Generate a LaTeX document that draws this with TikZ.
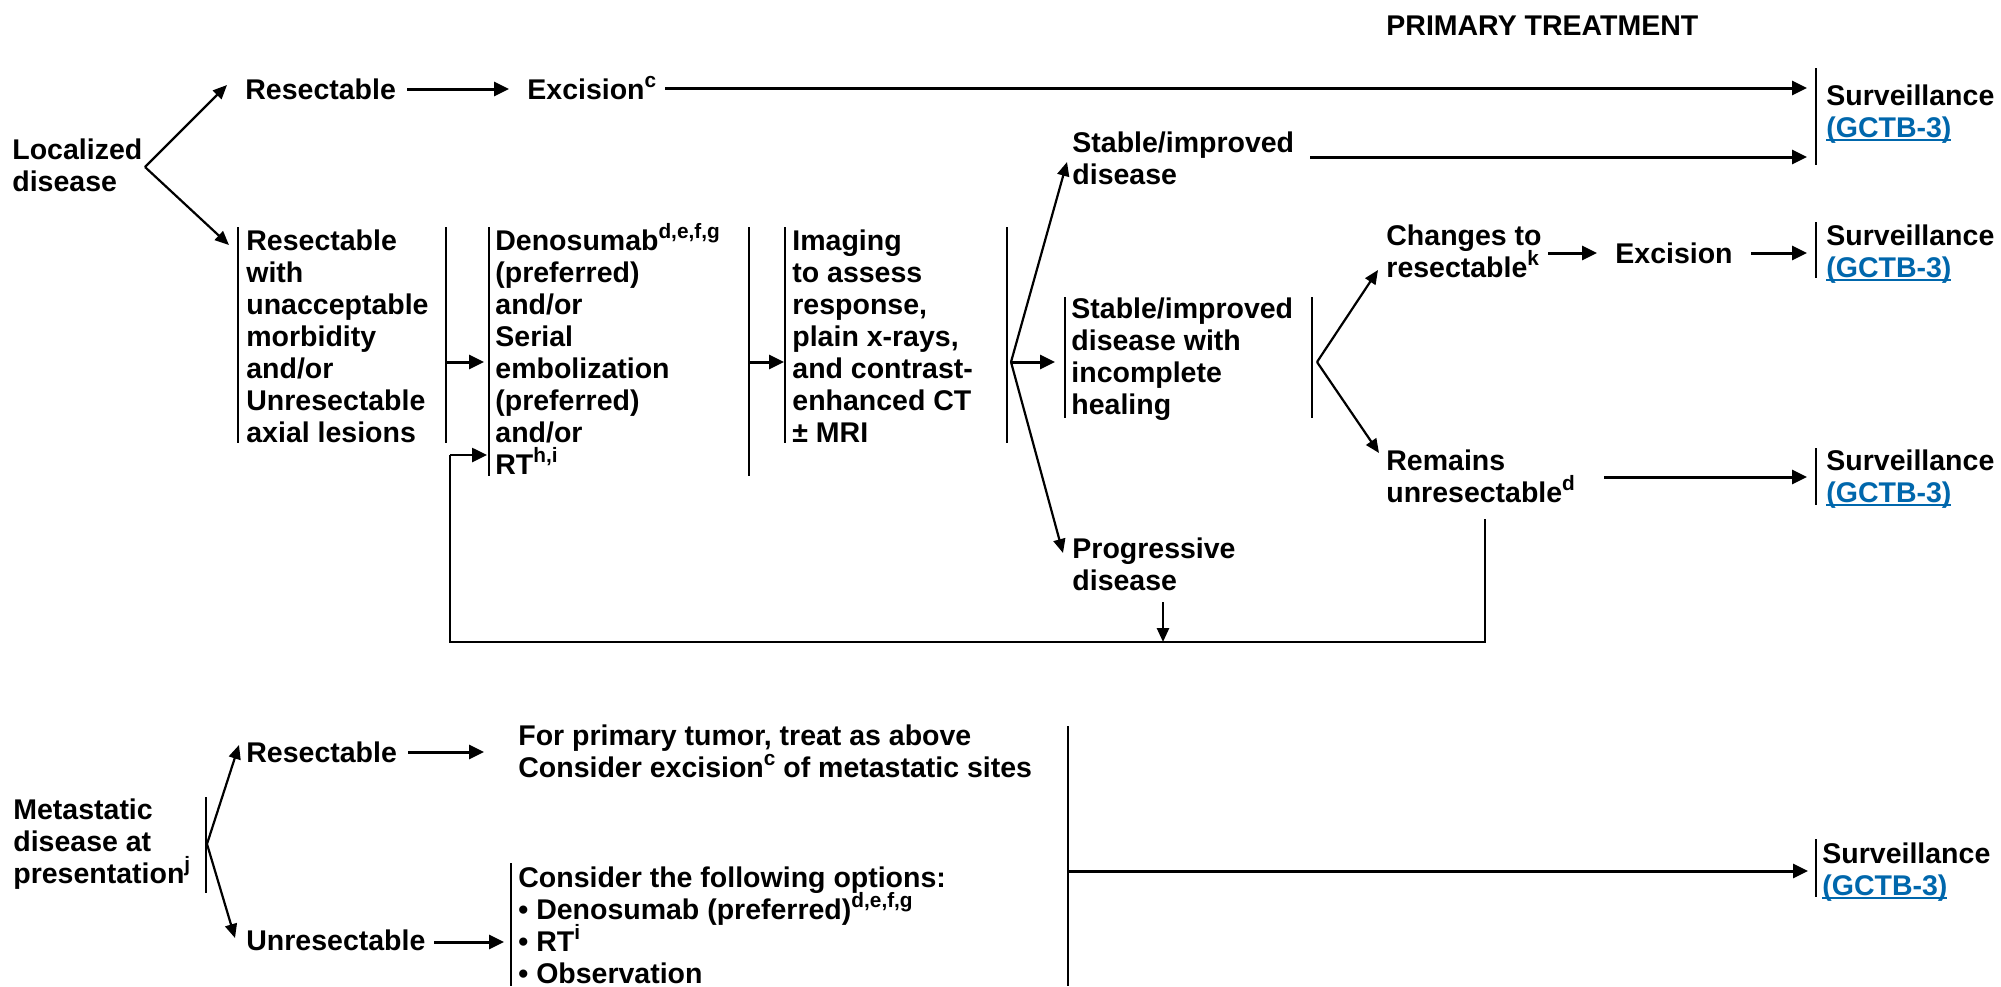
\documentclass[tikz,border=0pt]{standalone}
\usepackage{fontspec}
\setmainfont{Liberation Sans}
\usetikzlibrary{arrows.meta}
\definecolor{linkblue}{RGB}{0,103,172}
% stacked left-aligned lines, baseline on the first line
\newcommand\stk[1]{\begin{tabular}[t]{@{}l@{}}#1\end{tabular}}
% footnote marks that do not disturb line spacing
\newcommand\ssup[1]{\raisebox{5.8pt}[0pt][0pt]{\fontsize{10.4pt}{10pt}\selectfont #1}}
% underlined cross-reference
\newcommand\lnk[1]{{\color{linkblue}\setbox0=\hbox{#1}\rlap{\rule[-2.2pt]{\wd0}{1pt}}\box0}}
\newcommand\surv{\stk{Surveillance\\\lnk{(GCTB-3)}}}
\begin{document}
\begin{tikzpicture}[x=0.5pt,y=-0.5pt,
  every node/.style={font=\fontsize{14.25pt}{16pt}\selectfont\bfseries},
  txt/.style={inner sep=0pt, anchor=base west},
  bar/.style={line width=1pt},
  conn/.style={line width=1.5pt, -{Triangle[length=7.5pt,width=7pt]}},
  diag/.style={line width=1.1pt, -{Triangle[length=7pt,width=6pt]}},
  fb/.style={line width=1.3pt}]
\useasboundingbox (0,0) rectangle (2001,986);

% ---------- heading ----------
\node[txt] (title) at (1386,35) {PRIMARY TREATMENT};

% ---------- localized disease ----------
\node[txt] (loc) at (12,159) {\stk{Localized\\disease}};
\coordinate (locv) at (145,167);

\node[txt] (res1) at (245,99) {Resectable};
\node[txt] (exc1) at (527,99) {Excision\ssup{c}};

\node[txt] (blkA) at (246,250) {\stk{Resectable\\with\\unacceptable\\morbidity\\and/or\\Unresectable\\axial lesions}};
\node[txt] (blkB) at (495,250) {\stk{Denosumab\ssup{d,e,f,g}\\(preferred)\\and/or\\Serial\\embolization\\(preferred)\\and/or\\RT\ssup{h,i}}};
\node[txt] (blkC) at (792,250) {\stk{Imaging\\to assess\\response,\\plain x-rays,\\and contrast-\\enhanced CT\\± MRI}};

\node[txt] (stab) at (1072,152) {\stk{Stable/improved\\disease}};
\node[txt] (stabinc) at (1071,318) {\stk{Stable/improved\\disease with\\incomplete\\healing}};
\node[txt] (prog) at (1072,558) {\stk{Progressive\\disease}};

\node[txt] (chg) at (1386,245) {\stk{Changes to\\resectable\ssup{k}}};
\node[txt] (exc2) at (1615,263) {Excision};
\node[txt] (rem) at (1386,470) {\stk{Remains\\unresectable\ssup{d}}};

\node[txt] (sv1) at (1826,105) {\surv};
\node[txt] (sv2) at (1826,245) {\surv};
\node[txt] (sv3) at (1826,470) {\surv};

% bracket bars
\coordinate (aLt) at (238,227); \coordinate (aLb) at (238,443);
\coordinate (aRt) at (446,227); \coordinate (aRb) at (446,443);
\coordinate (bLt) at (489,227); \coordinate (bLb) at (489,476);
\coordinate (bRt) at (749,227); \coordinate (bRb) at (749,476);
\coordinate (cLt) at (785,227); \coordinate (cLb) at (785,443);
\coordinate (cRt) at (1007,227); \coordinate (cRb) at (1007,443);
\coordinate (dLt) at (1065,297); \coordinate (dLb) at (1065,418);
\coordinate (dRt) at (1312,297); \coordinate (dRb) at (1312,418);
\coordinate (s1t) at (1816,68);  \coordinate (s1b) at (1816,165);
\coordinate (s2t) at (1816,222); \coordinate (s2b) at (1816,278);
\coordinate (s3t) at (1816,448); \coordinate (s3b) at (1816,505);
\foreach \p in {aL,aR,bL,bR,cL,cR,dL,dR,s1,s2,s3}
  \draw[bar] (\p t) -- (\p b);

% branch points
\coordinate (cv) at (1011,362);
\coordinate (dv) at (1317,362);

% connectors
\draw[diag] (locv) -- (227,85);
\draw[diag] (locv) -- (229,245);
\draw[conn] (407,89) -- (509,89);
\draw[conn] (665,88) -- ([xshift=-4.5pt]s1t |- 0,88);
\draw[conn] (1310,157) -- ([xshift=-4.5pt]s1t |- 0,157);

\draw[conn] (aRt |- cv) -- (484,362);
\draw[conn] (bRt |- cv) -- (784,362);
\draw[diag] (cv) -- (1067,162);
\draw[conn] (cv) -- (1055,362);
\draw[diag] (cv) -- (1063,553);

\draw[diag] (dv) -- (1378,270);
\draw[diag] (dv) -- (1379,453);
\draw[conn] (1548,253) -- (1597,253);
\draw[conn] (1751,253) -- ([xshift=-4.5pt]s2t |- 0,253);
\draw[conn] (1604,477) -- ([xshift=-4.5pt]s3t |- 0,477);

% feedback loop back to the treatment block
\coordinate (fbR) at (1485,519);
\coordinate (fbBL) at (450,642);
\coordinate (fbTL) at (450,455);
\draw[fb] (fbR) -- (fbR |- fbBL) -- (fbBL) -- (fbTL);
\draw[conn, line width=1.3pt] (fbTL) -- (487,455);
\draw[diag, line width=1.3pt] (1163,602) -- (1163 ,642);

% ---------- metastatic disease ----------
\node[txt] (met) at (13,819) {\stk{Metastatic\\disease at\\presentation\ssup{j}}};
\coordinate (mt) at (206,797); \coordinate (mb) at (206,893);
\draw[bar] (mt) -- (mb);
\coordinate (mv) at (207,844);

\node[txt] (res2) at (246,762) {Resectable};
\node[txt] (unres) at (246,950) {Unresectable};
\node[txt] (prim) at (518,745) {\stk{For primary tumor, treat as above\\Consider excision\ssup{c} of metastatic sites}};
\node[txt] (opts) at (518,887) {\stk{Consider the following options:\\• Denosumab (preferred)\ssup{d,e,f,g}\\• RT\ssup{i}\\• Observation}};
\node[txt] (sv4) at (1822,863) {\surv};

\coordinate (ot) at (511,863); \coordinate (ob) at (511,986);
\coordinate (gt) at (1068,726); \coordinate (gb) at (1068,986);
\coordinate (s4t) at (1816,839); \coordinate (s4b) at (1816,897);
\draw[bar] (ot) -- (ob);
\draw[bar] (gt) -- (gb);
\draw[bar] (s4t) -- (s4b);

\draw[diag] (mv) -- (239,745);
\draw[diag] (mv) -- (235,938);
\draw[conn] (408,752) -- (484,752);
\draw[conn] (434,942) -- (504,942);
\draw[conn] (gt |- 0,871) -- ([xshift=-4pt]s4t |- 0,871);
\end{tikzpicture}
\end{document}
